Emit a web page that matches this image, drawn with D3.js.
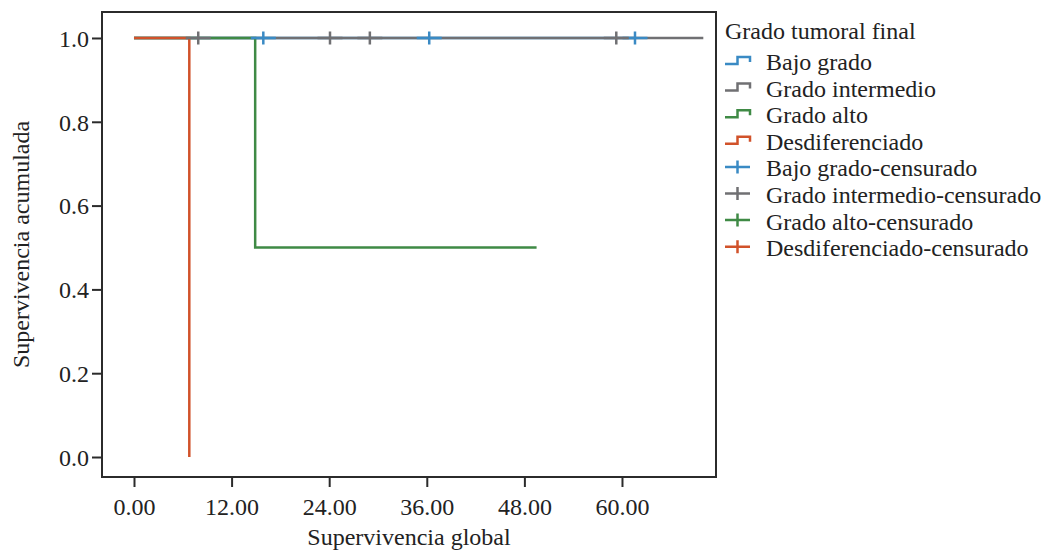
<!DOCTYPE html>
<html>
<head>
<meta charset="utf-8">
<script src="https://cdnjs.cloudflare.com/ajax/libs/d3/7.8.5/d3.min.js"></script>
<style>
  body { margin: 0; background: #fff; }
  svg { display: block; font-family: "Liberation Serif", "Times New Roman", serif; }
  .axis text { font-family: "Liberation Serif", "Times New Roman", serif; font-size: 24px; fill: #222; }
  .axis path, .axis line { stroke: #2b2b2b; stroke-width: 2; }
</style>
</head>
<body>
<div id="chart"></div>
<script>
// Groups (legend order) and colours
const groups = ["Bajo grado", "Grado intermedio", "Grado alto", "Desdiferenciado"];
const groupColors = ["#3a8ac4", "#707073", "#3f8a45", "#d1522a"];

// Kaplan-Meier steps per group: [months, cumulative survival]
const bajoSteps = [[0, 1], [61.6, 1]];
const intermedioSteps = [[0, 1], [70.0, 1]];
const altoSteps = [[0, 1], [14.9, 0.5], [49.5, 0.5]];
const desdifSteps = [[0, 1], [6.8, 0]];

// Censored observations per group: [months, survival]
const bajoCensored = [[15.9, 1], [36.3, 1], [61.6, 1]];
const intermedioCensored = [[7.9, 1], [24.1, 1], [29.0, 1], [59.3, 1]];
const altoCensored = [];
const desdifCensored = [];

// Tick values
const xTicks = [0, 12, 24, 36, 48, 60];
const yTicks = [0, 0.2, 0.4, 0.6, 0.8, 1.0];

const steps = [bajoSteps, intermedioSteps, altoSteps, desdifSteps];
const censored = [bajoCensored, intermedioCensored, altoCensored, desdifCensored];

const width = 1045;
const height = 550;
const plot = { left: 102, right: 716, top: 12, bottom: 477 };

const svg = d3.select("#chart")
  .append("svg")
  .attr("width", width)
  .attr("height", height);

const x = d3.scaleLinear()
  .domain([-3.934, 71.56])
  .range([plot.left, plot.right]);

const y = d3.scaleLinear()
  .domain([-0.0477, 1.062])
  .range([plot.bottom, plot.top]);

// Axes
svg.append("g")
  .attr("class", "axis")
  .attr("transform", `translate(0,${plot.bottom})`)
  .call(d3.axisBottom(x).tickValues(xTicks).tickFormat(d3.format(".2f")).tickSize(10).tickPadding(11))
  .call(g => g.select(".domain").remove());

svg.append("g")
  .attr("class", "axis")
  .attr("transform", `translate(${plot.left},0)`)
  .call(d3.axisLeft(y).tickValues(yTicks).tickFormat(d3.format(".1f")).tickSize(10).tickPadding(3))
  .call(g => g.select(".domain").remove())
  .selectAll("text").attr("dy", "0.35em");

// Plot frame
svg.append("rect")
  .attr("x", plot.left)
  .attr("y", plot.top)
  .attr("width", plot.right - plot.left)
  .attr("height", plot.bottom - plot.top)
  .attr("fill", "none")
  .attr("stroke", "#2b2b2b")
  .attr("stroke-width", 2);

// Axis titles
svg.append("text")
  .attr("x", (plot.left + plot.right) / 2)
  .attr("y", 545)
  .attr("text-anchor", "middle")
  .attr("font-size", 24)
  .attr("fill", "#222")
  .text("Supervivencia global");

svg.append("text")
  .attr("transform", `translate(29,${(plot.top + plot.bottom) / 2}) rotate(-90)`)
  .attr("text-anchor", "middle")
  .attr("font-size", 24)
  .attr("fill", "#222")
  .text("Supervivencia acumulada");

// Survival curves
const line = d3.line()
  .x(d => x(d[0]))
  .y(d => y(d[1]))
  .curve(d3.curveStepAfter);

svg.append("g")
  .selectAll("path")
  .data(steps)
  .join("path")
  .attr("d", line)
  .attr("fill", "none")
  .attr("stroke", (d, i) => groupColors[i])
  .attr("stroke-width", 2.5);

// Censor marks
const cross = "M-12.5,0H12.5M0,-6.5V6.5";

censored.forEach((pts, i) => {
  svg.append("g")
    .selectAll("path")
    .data(pts)
    .join("path")
    .attr("transform", d => `translate(${x(d[0])},${y(d[1])})`)
    .attr("d", cross)
    .attr("stroke", groupColors[i])
    .attr("stroke-width", 2.5);
});

// Legend
const legend = svg.append("g").attr("transform", "translate(725,0)");

legend.append("text")
  .attr("x", 0)
  .attr("y", 39)
  .attr("font-size", 24)
  .attr("fill", "#222")
  .text("Grado tumoral final");

const legendItems = groups.map((g, i) => ({ label: g, color: groupColors[i], type: "line" }))
  .concat(groups.map((g, i) => ({ label: g + "-censurado", color: groupColors[i], type: "cross" })));

const item = legend.selectAll("g.item")
  .data(legendItems)
  .join("g")
  .attr("class", "item")
  .attr("transform", (d, i) => `translate(0,${70 + i * 26.6})`);

item.append("path")
  .attr("d", d => d.type === "line" ? "M0,-6H12.5V-13H25V-8" : "M0,-9.5H25M12.5,-16V-3")
  .attr("fill", "none")
  .attr("stroke", d => d.color)
  .attr("stroke-width", 2.5);

item.append("text")
  .attr("x", 41)
  .attr("y", 0)
  .attr("font-size", 24)
  .attr("fill", "#222")
  .text(d => d.label);
</script>
</body>
</html>
